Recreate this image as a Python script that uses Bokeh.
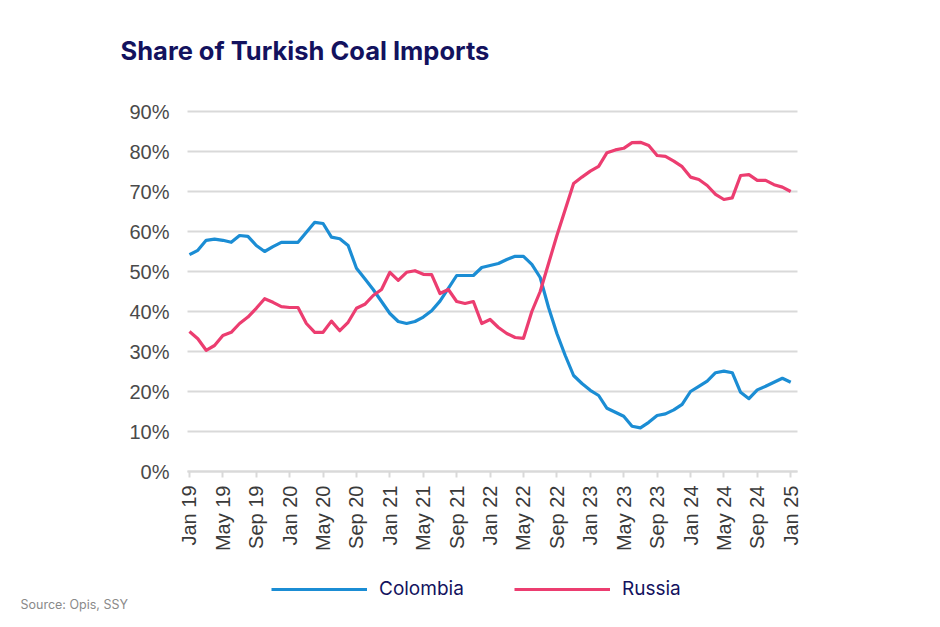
import math
from bokeh.plotting import figure
from bokeh.models import Range1d, FixedTicker, Legend, LegendItem, PrintfTickFormatter, Label
from bokeh.embed import file_html
from bokeh.resources import INLINE

# ---- data ----
tick_labels = ["Jan 19", "May 19", "Sep 19", "Jan 20", "May 20", "Sep 20", "Jan 21",
               "May 21", "Sep 21", "Jan 22", "May 22", "Sep 22", "Jan 23", "May 23",
               "Sep 23", "Jan 24", "May 24", "Sep 24", "Jan 25"]

colombia = [54.2, 55.3, 57.8, 58.1, 57.8, 57.3, 59.0, 58.8, 56.5, 55.0,
            56.2, 57.3, 57.3, 57.3, 59.8, 62.3, 62.0, 58.6, 58.2, 56.5,
            50.8, 48.2, 45.5, 42.5, 39.5, 37.5, 37.0, 37.5, 38.6, 40.2,
            42.6, 45.8, 49.0, 49.0, 49.0, 51.0, 51.5, 52.0, 53.0, 53.8,
            53.8, 51.8, 48.5, 41.0, 34.5, 29.0, 24.0, 22.0, 20.3, 19.0,
            15.8, 14.8, 13.8, 11.3, 10.9, 12.3, 14.0, 14.4, 15.4, 16.8,
            20.0, 21.3, 22.6, 24.7, 25.1, 24.7, 19.8, 18.2, 20.4, 21.3,
            22.3, 23.3, 22.3]

russia = [35.0, 33.2, 30.3, 31.5, 34.0, 34.8, 37.0, 38.6, 40.8, 43.2,
          42.3, 41.2, 41.0, 41.0, 37.0, 34.8, 34.8, 37.6, 35.2, 37.3,
          40.8, 41.8, 44.0, 45.5, 49.8, 47.8, 49.8, 50.2, 49.3, 49.2,
          44.5, 45.5, 42.5, 42.0, 42.5, 37.0, 38.0, 36.0, 34.5, 33.5,
          33.3, 40.0, 45.0, 52.0, 59.0, 65.5, 72.0, 73.6, 75.1, 76.3,
          79.7, 80.4, 80.8, 82.2, 82.3, 81.5, 79.0, 78.8, 77.6, 76.2,
          73.6, 73.0, 71.5, 69.3, 68.0, 68.4, 74.0, 74.2, 72.8, 72.8,
          71.7, 71.1, 70.0]

months = list(range(len(colombia)))
tick_pos = months[::4]

BLUE = "#1b8dd4"
RED = "#ec3d70"
NAVY = "#13125e"
GRID = "#d9d9d9"

# the frame covers the whole canvas (8.35 px per month, 4 px per percentage point);
# axes are pinned inside it so that title, legend and source can sit in it too
p = figure(width=932, height=619, output_backend="svg", toolbar_location=None,
           x_range=Range1d(-22.63, 88.98), y_range=Range1d(-37.0, 117.75),
           min_border=0, min_border_left=0, min_border_right=0,
           min_border_top=0, min_border_bottom=0)
p.outline_line_color = None
p.background_fill_color = "white"
p.border_fill_color = "white"

PLOT_X = (-0.24, 72.8)

p.xgrid.grid_line_color = None
p.ygrid.grid_line_color = GRID
p.ygrid.grid_line_width = 2
for g in p.ygrid:
    if "cross_bounds" in g.properties():
        g.cross_bounds = PLOT_X

# y axis pinned at the left edge of the plotting area
p.yaxis.fixed_location = PLOT_X[0]
p.yaxis.ticker = FixedTicker(ticks=list(range(0, 91, 10)))
p.yaxis.formatter = PrintfTickFormatter(format="%d%%")
p.yaxis.axis_line_color = None
p.yaxis.major_tick_line_color = None
p.yaxis.minor_tick_line_color = None
p.yaxis.major_label_standoff = 12
p.yaxis.major_label_text_font = "Liberation Sans"
p.yaxis.major_label_text_font_size = "20px"
p.yaxis.major_label_text_color = "#4a4a4a"

# x axis pinned at the 0 % line
p.xaxis.fixed_location = 0
p.xaxis.bounds = PLOT_X
p.xaxis.ticker = FixedTicker(ticks=tick_pos)
p.xaxis.major_label_overrides = {t: lab for t, lab in zip(tick_pos, tick_labels)}
p.xaxis.major_label_orientation = math.pi / 2
p.xaxis.axis_line_color = GRID
p.xaxis.axis_line_width = 2
p.xaxis.major_tick_line_color = GRID
p.xaxis.major_tick_line_width = 2
p.xaxis.major_tick_in = 0
p.xaxis.major_tick_out = 6
p.xaxis.minor_tick_line_color = None
p.xaxis.major_label_standoff = 8
p.xaxis.major_label_text_font = "Liberation Sans"
p.xaxis.major_label_text_font_size = "20px"
p.xaxis.major_label_text_color = "#3a3a3a"

r_col = p.line(months, colombia, line_color=BLUE, line_width=3.2, line_join="round")
r_rus = p.line(months, russia, line_color=RED, line_width=3.2, line_join="round")

title = Label(x=120, y=569, x_units="screen", y_units="screen",
              text="Share of Turkish Coal Imports", text_font="Inter",
              text_font_style="bold", text_font_size="25.5px", text_color=NAVY,
              text_baseline="alphabetic")
p.add_layout(title)

legend = Legend(items=[LegendItem(label="Colombia", renderers=[r_col]),
                       LegendItem(label="Russia", renderers=[r_rus])],
                orientation="horizontal", location=(271, 19),
                glyph_width=96, glyph_height=20, label_height=20, label_width=85,
                label_standoff=12, spacing=50, padding=0, margin=0,
                border_line_color=None, background_fill_alpha=0,
                label_text_font="Inter", label_text_font_size="19px",
                label_text_color=NAVY)
p.add_layout(legend, "center")

source = Label(x=20, y=15, x_units="screen", y_units="screen",
               text="Source: Opis, SSY", text_font="Inter",
               text_font_size="12.5px", text_color="#8a8a8a",
               text_baseline="middle")
p.add_layout(source)

open("out.html", "w").write(file_html(p, INLINE))
